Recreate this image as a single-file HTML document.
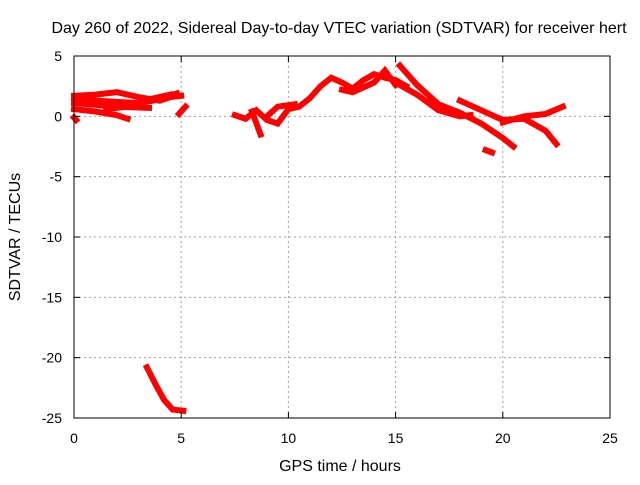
<!DOCTYPE html>
<html><head><meta charset="utf-8"><style>
body{margin:0;background:#fff;}
svg text{font-family:"Liberation Sans",sans-serif;font-size:14px;fill:#000;}
svg text.big{font-size:16px;}
</style></head><body>
<svg id="chart" width="640" height="480" xmlns="http://www.w3.org/2000/svg">
<rect width="640" height="480" fill="#fff"/>
<text class="big" x="339" y="33" text-anchor="middle">Day 260 of 2022, Sidereal Day-to-day VTEC variation (SDTVAR) for receiver hert</text>
<text class="big" x="340" y="471" text-anchor="middle">GPS time / hours</text>
<text class="big" transform="translate(20,237) rotate(-90)" text-anchor="middle">SDTVAR / TECUs</text>
<g id="grid"></g>
<g id="marks"></g>
<rect x="74" y="56" width="536" height="362" fill="none" stroke="#000" stroke-width="1"/>
<g id="ticks"></g>
</svg>
<script>
const xTicks=[0,5,10,15,20,25];
const yTicks=[5,0,-5,-10,-15,-20,-25];
const track1=[[0,1.7],[1,1.8],[2,2.0],[3,1.6],[4,1.3],[4.5,1.6],[5,1.7]];
const track2=[[0,0.6],[1,0.4],[2,0.1],[2.5,-0.2]];
const track3=[[0,1.5],[1,1.3],[2,1.2],[3,1.1],[4,1.4],[4.8,1.9]];
const track4=[[1.5,0.6],[2.5,0.8],[3.5,1.4],[4.5,1.8]];
const track5=[[0,1.1],[2,0.8],[3.5,0.7]];
const track6=[[4.9,0.2],[5.2,0.8]];
const track7=[[7.5,0.1],[8,-0.2],[8.5,0.5],[9,-0.3],[9.5,-0.6],[10,0.6],[10.5,0.8],[11,1.5],[11.5,2.5],[12,3.2],[12.5,2.8],[13,2.3],[13.5,3.0],[14,3.5],[14.5,3.2],[15,3.0],[15.5,2.5]];
const track8=[[8.3,0.4],[8.7,-1.5]];
const track9=[[9,0],[9.5,0.8],[10.3,1.0]];
const track10=[[12.5,2.2],[13,2.0],[14,2.8],[14.5,3.8],[15,2.6]];
const track11=[[15.2,4.2],[16,2.6],[17,1.0],[18,0.3],[19,-0.6],[20,-1.8],[20.5,-2.5]];
const track12=[[15,2.8],[16,1.8],[17,0.5],[18,0],[18.5,0.1]];
const track13=[[18,1.3],[19,0.5],[20,-0.3],[21,-0.2],[22,-1.2],[22.5,-2.3]];
const track14=[[20,-0.5],[21,0],[22,0.2],[22.8,0.8]];
const track15=[[19.2,-2.8],[19.5,-3.0]];
const track16=[[3.4,-20.8],[3.8,-22.2],[4.2,-23.5],[4.6,-24.3],[5.1,-24.4]];
const track17=[[0,-0.1],[0.1,-0.3]];
const tracks=[track1,track2,track3,track4,track5,track6,track7,track8,track9,track10,track11,track12,track13,track14,track15,track16,track17];
const X0=74,X1=610,Y0=56,Y1=418;
function sx(h){return X0+(h-0)/(25-0)*(X1-X0);}
function sy(v){return Y0+(5-v)/(5-(-25))*(Y1-Y0);}
const NS="http://www.w3.org/2000/svg";
const grid=document.getElementById('grid'),ticks=document.getElementById('ticks'),marks=document.getElementById('marks');
function mk(tag,attrs,parent){const e=document.createElementNS(NS,tag);for(const k in attrs)e.setAttribute(k,attrs[k]);parent.appendChild(e);return e;}
xTicks.forEach(t=>{
  const x=sx(t);
  if(t>0&&t<25){const g=mk('line',{x1:x,x2:x,y1:Y0,y2:Y1,stroke:'#a0a0a0','stroke-dasharray':'2,3'},grid);
  
  }
  mk('line',{x1:x,x2:x,y1:Y1,y2:Y1-6,stroke:'#000'},ticks);
  mk('line',{x1:x,x2:x,y1:Y0,y2:Y0+6,stroke:'#000'},ticks);
  const l=mk('text',{x:x,y:443,'text-anchor':'middle'},ticks);l.textContent=t;
  
  
});
yTicks.forEach(t=>{
  const y=sy(t);
  if(t>-25&&t<5){const g=mk('line',{x1:X0,x2:X1,y1:y,y2:y,stroke:'#a0a0a0','stroke-dasharray':'2,3'},grid);
  
  }
  mk('line',{x1:X0,x2:X0+6,y1:y,y2:y,stroke:'#000'},ticks);
  mk('line',{x1:X1,x2:X1-6,y1:y,y2:y,stroke:'#000'},ticks);
  const l=mk('text',{x:62,y:y+5,'text-anchor':'end'},ticks);l.textContent=t;
  
  
});
tracks.forEach((tr,i)=>{
  const p=mk('polyline',{points:tr.map(d=>sx(d[0])+','+sy(d[1])).join(' '),fill:'none',stroke:'#ff0000','stroke-width':6,'stroke-linejoin':'miter','stroke-linecap':'square'},marks);
  
  
});
</script>
</body></html>
